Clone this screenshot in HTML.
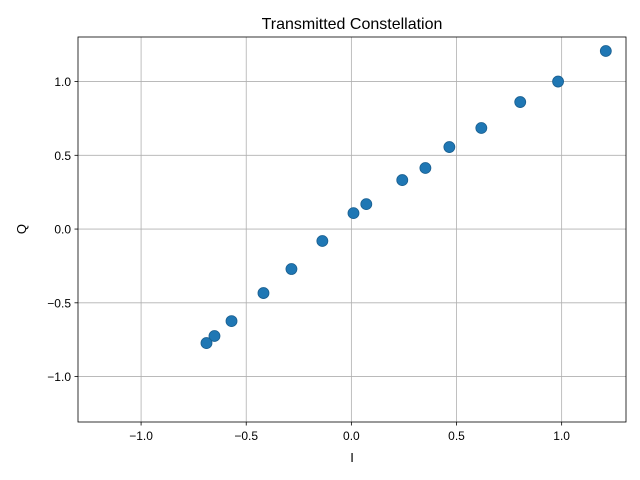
<!DOCTYPE html>
<html><head><meta charset="utf-8"><style>
body{margin:0;background:#fff;}
svg{display:block;font-family:"Liberation Sans","DejaVu Sans",sans-serif;}
</style></head><body>
<svg id="chart" width="640" height="480">
<rect width="640" height="480" fill="#fff"/>
<g id="grid"></g><g id="pts"></g><g id="axes"></g>
<text x="352" y="29" text-anchor="middle" font-size="16">Transmitted Constellation</text>
<text x="352" y="462" text-anchor="middle" font-size="13">I</text>
<text x="26" y="229" text-anchor="middle" font-size="13" transform="rotate(-90 26 229)">Q</text>
</svg>
<script>
const xs=[1.21,0.983,0.803,0.618,0.466,0.352,0.242,0.071,0.01,-0.138,-0.285,-0.418,-0.57,-0.651,-0.689];
const ys=[1.207,1.0,0.861,0.685,0.556,0.414,0.332,0.169,0.108,-0.081,-0.271,-0.434,-0.624,-0.725,-0.773];
const xTicks=[-1.0,-0.5,0.0,0.5,1.0];
const yTicks=[-1.0,-0.5,0.0,0.5,1.0];
const L=78,R=626,T=37,B=422,xmin=-1.3,xmax=1.306,ymin=-1.308,ymax=1.302;
const sx=v=>L+(v-xmin)/(xmax-xmin)*(R-L);
const sy=v=>B-(v-ymin)/(ymax-ymin)*(B-T);
const NS="http://www.w3.org/2000/svg";
function mk(tag,attrs,parent){const e=document.createElementNS(NS,tag);for(const k in attrs)e.setAttribute(k,attrs[k]);parent.appendChild(e);return e;}
const grid=document.getElementById('grid'),axes=document.getElementById('axes'),pts=document.getElementById('pts');
const fmt=v=>(v<0?'\u2212':'')+Math.abs(v).toFixed(1);
xTicks.forEach(v=>{const x=sx(v);
 const g=mk('line',{x1:x,x2:x,y1:T,y2:B,stroke:'#b0b0b0','stroke-width':0.8},grid);
 
 
 mk('line',{x1:x,x2:x,y1:B,y2:B+3.5,stroke:'#000','stroke-width':0.8},axes);
 const t=mk('text',{x:x,y:B+18,'text-anchor':'middle','font-size':12},axes);t.textContent=fmt(v);
 
 
});
yTicks.forEach(v=>{const y=sy(v);
 const g=mk('line',{x1:L,x2:R,y1:y,y2:y,stroke:'#b0b0b0','stroke-width':0.8},grid);
 
 
 mk('line',{x1:L-3.5,x2:L,y1:y,y2:y,stroke:'#000','stroke-width':0.8},axes);
 const t=mk('text',{x:L-7,y:y+4.5,'text-anchor':'end','font-size':12},axes);t.textContent=fmt(v);
 
 
});
const fr=mk('rect',{x:L,y:T,width:R-L,height:B-T,fill:'none',stroke:'#000','stroke-width':0.8},axes);


xs.forEach((v,i)=>{
 const c=mk('circle',{cx:sx(v),cy:sy(ys[i]),r:5.5,fill:'#1f77b4',stroke:'#1a5f90','stroke-width':0.8},pts);
 
 
});
</script>
</body></html>
